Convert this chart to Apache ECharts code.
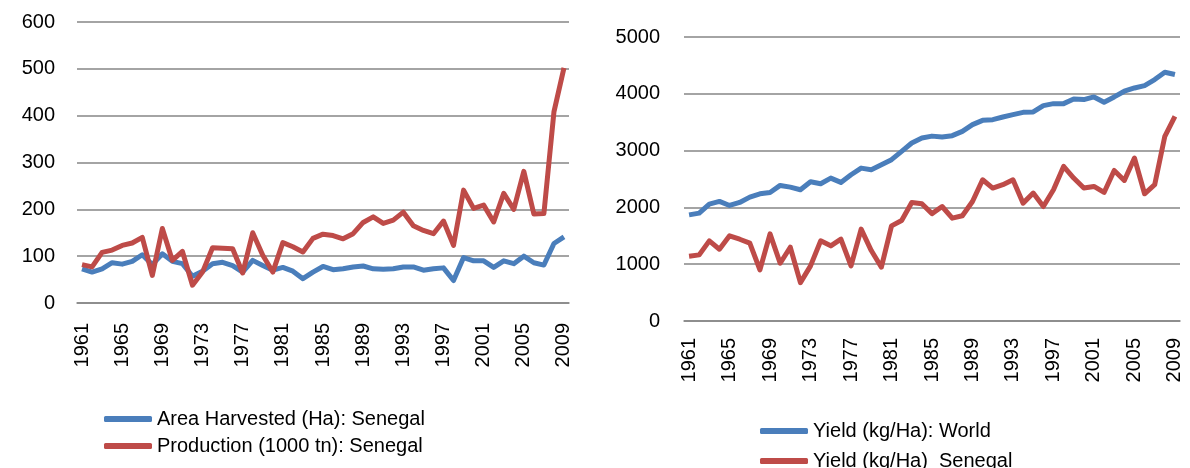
<!DOCTYPE html>
<html>
<head>
<meta charset="utf-8">
<script src="https://cdn.jsdelivr.net/npm/echarts@6/dist/echarts.min.js"></script>
<style>
  html, body { margin: 0; padding: 0; background: #fff; }
  #chart { width: 1190px; height: 468px; }
</style>
</head>
<body>
<div id="chart"></div>
<script>
const years = [];
for (let y = 1961; y <= 2009; y++) years.push(String(y));

const areaSenegal = [
  73, 66, 73, 86, 83, 89, 103, 82, 105, 89,
  84, 57, 68, 84, 87, 80, 66, 91, 80, 70,
  76, 68, 52, 66, 78, 71, 73, 77, 79, 73,
  72, 73, 77, 77, 70, 73, 75, 48, 97, 90,
  90, 76, 90, 84, 100, 86, 81, 127, 141,
];

const productionSenegal = [
  82, 77, 108, 113, 123, 128, 140, 59, 159, 91,
  110, 38, 66, 118, 117, 116, 64, 150, 102, 66,
  129, 120, 109, 138, 147, 144, 137, 148, 172, 184,
  170, 177, 194, 165, 155, 148, 175, 123, 241, 202,
  209, 173, 234, 200, 281, 190, 191, 408, 502,
];

const yieldWorld = [
  1869, 1899, 2058, 2105, 2034, 2087, 2181, 2240, 2263, 2387,
  2357, 2310, 2451, 2416, 2516, 2440, 2575, 2692, 2663, 2751,
  2840, 2986, 3134, 3222, 3255, 3239, 3263, 3339, 3457, 3533,
  3545, 3592, 3633, 3674, 3680, 3792, 3827, 3827, 3909, 3898,
  3945, 3851, 3945, 4045, 4103, 4145, 4250, 4380, 4339,
];

const yieldSenegal = [
  1140, 1164, 1411, 1264, 1499, 1440, 1370, 899, 1534, 1017,
  1299, 676, 970, 1411, 1323, 1440, 970, 1617, 1240, 947,
  1675, 1770, 2087, 2063, 1890, 2016, 1811, 1852, 2104, 2487,
  2340, 2399, 2487, 2075, 2252, 2016, 2310, 2722, 2516, 2340,
  2369, 2263, 2651, 2475, 2869, 2240, 2399, 3251, 3604,
];

const BLUE = "#4a7ebb";
const RED = "#be4b48";
const GRID = "#868686";
const FONT = "Liberation Sans";

const chart = echarts.init(document.getElementById("chart"));

function xAxisFor(gridIndex, margin) {
  return {
    type: "category",
    gridIndex: gridIndex,
    data: years,
    boundaryGap: true,
    axisTick: { show: false },
    axisLine: { lineStyle: { color: GRID, width: 1.5 } },
    axisLabel: {
      interval: 3,
      rotate: 90,
      margin: margin,
      color: "#000",
      fontSize: 20,
      fontFamily: FONT,
    },
  };
}

function yAxisFor(gridIndex, max, interval, margin) {
  return {
    type: "value",
    gridIndex: gridIndex,
    min: 0,
    max: max,
    interval: interval,
    axisLine: { show: false },
    axisTick: { show: false },
    splitLine: { lineStyle: { color: GRID, width: 1.5 } },
    axisLabel: {
      margin: margin,
      color: "#000",
      fontSize: 20,
      fontFamily: FONT,
      formatter: (v) => String(v),
    },
  };
}

function lineSeries(name, data, color, axisIndex) {
  return {
    name: name,
    type: "line",
    xAxisIndex: axisIndex,
    yAxisIndex: axisIndex,
    data: data,
    symbol: "none",
    animation: false,
    lineStyle: { color: color, width: 5, join: "round" },
    itemStyle: { color: color },
  };
}

const legendBase = {
  orient: "vertical",
  icon: "roundRect",
  padding: 0,
  height: 100,
  itemWidth: 48,
  itemHeight: 6,
  textStyle: { color: "#000", fontSize: 20, fontFamily: FONT, lineHeight: 18 },
};

const option = {
  animation: false,
  grid: [
    { left: 77, right: 621, top: 22, bottom: 165 },
    { left: 684, right: 10, top: 37, bottom: 147 },
  ],
  xAxis: [xAxisFor(0, 20), xAxisFor(1, 17)],
  yAxis: [yAxisFor(0, 600, 100, 22), yAxisFor(1, 5000, 1000, 24)],
  legend: [
    Object.assign({}, legendBase, {
      left: 104,
      top: 409,
      itemGap: 7,
      data: ["Area Harvested (Ha): Senegal", "Production (1000 tn): Senegal"],
    }),
    Object.assign({}, legendBase, {
      left: 760,
      top: 421,
      itemGap: 10,
      data: ["Yield (kg/Ha): World", "Yield (kg/Ha)_Senegal"],
    }),
  ],
  series: [
    lineSeries("Area Harvested (Ha): Senegal", areaSenegal, BLUE, 0),
    lineSeries("Production (1000 tn): Senegal", productionSenegal, RED, 0),
    lineSeries("Yield (kg/Ha): World", yieldWorld, BLUE, 1),
    lineSeries("Yield (kg/Ha)_Senegal", yieldSenegal, RED, 1),
  ],
};

chart.setOption(option);
</script>
</body>
</html>
